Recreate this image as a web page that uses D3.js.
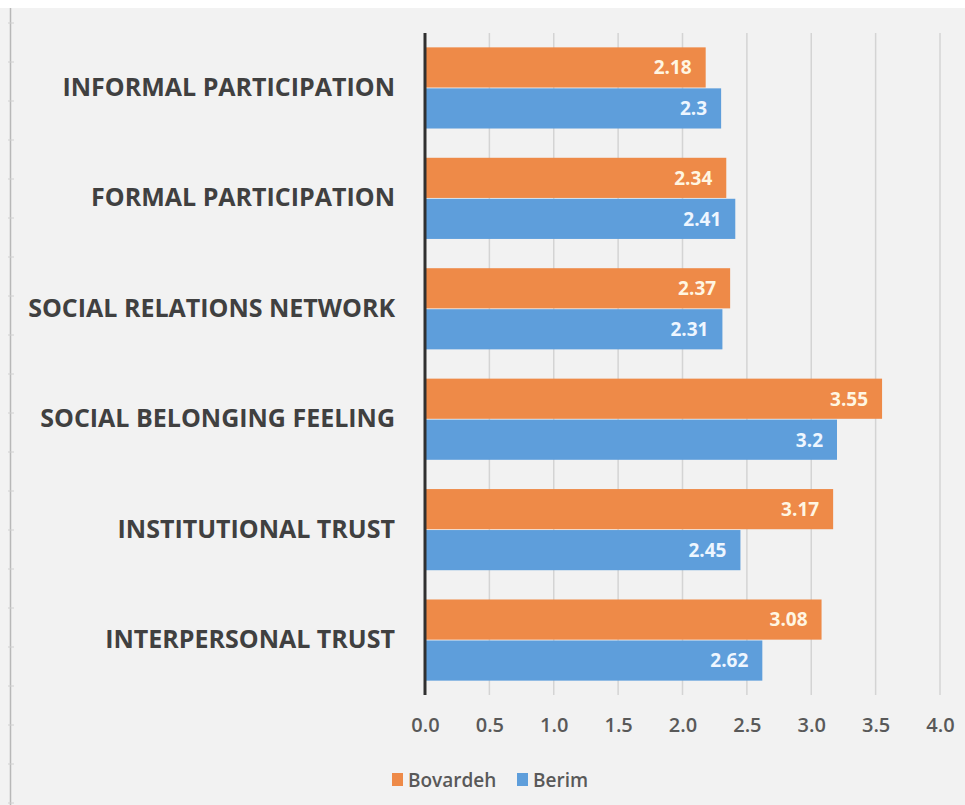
<!DOCTYPE html>
<html>
<head>
<meta charset="utf-8">
<script src="https://cdn.jsdelivr.net/npm/d3@7"></script>
<style>
body{margin:0;background:#fff;}
svg{display:block;font-family:'Open Sans',sans-serif;}
</style>
</head>
<body>
<div id="chart"></div>
<script>
var categories = ['INFORMAL PARTICIPATION','FORMAL PARTICIPATION','SOCIAL RELATIONS NETWORK','SOCIAL BELONGING FEELING','INSTITUTIONAL TRUST','INTERPERSONAL TRUST']
var series = ['Bovardeh','Berim']
var bovardeh = [2.18,2.34,2.37,3.55,3.17,3.08]
var berim = [2.3,2.41,2.31,3.2,2.45,2.62]
var ticks = [0,0.5,1,1.5,2,2.5,3,3.5,4]
var colors = ['#EE8A48','#5E9EDB']
var labelColors = ['#FFF6E2','#EEF6FF']

var W = 965, H = 805
var svg = d3.select('#chart').append('svg')
	.attr('width', W)
	.attr('height', H)

svg.append('rect').attr('x',0).attr('y',8).attr('width',W).attr('height',H-8).attr('fill','#f2f2f2')
// sheet edge on the left
svg.append('line').attr('x1',10.5).attr('x2',10.5).attr('y1',8).attr('y2',H).attr('stroke','#b8b8b8').attr('stroke-width',1.5)
svg.append('g').selectAll('line').data(d3.range(0,21)).enter().append('line')
	.attr('x1',8).attr('x2',14)
	.attr('y1',d=>23+d*39).attr('y2',d=>23+d*39)
	.attr('stroke','#d0d0d0')

var x = d3.scaleLinear().domain([0,4]).range([425,940])
var y = d3.scaleBand().domain(categories).range([33,695]).paddingInner(0.265).paddingOuter(0.13)
var y1 = d3.scaleBand().domain(series).range([0,y.bandwidth()]).paddingInner(0.02)

// gridlines
svg.append('g').selectAll('line').data(ticks.slice(1)).enter().append('line')
	.attr('x1',d=>x(d)).attr('x2',d=>x(d))
	.attr('y1',33).attr('y2',695)
	.attr('stroke','#d4d4d4').attr('stroke-width',1.5)

// x axis labels
var xAxis = svg.append('g').attr('transform','translate(0,695)')
	.call(d3.axisBottom(x).tickValues(ticks).tickFormat(d3.format('.1f')).tickSize(0).tickPadding(23))
xAxis.select('.domain').remove()
xAxis.selectAll('text').attr('font-size','20px').attr('font-weight','600').attr('fill','#595959').attr('font-family','Open Sans, sans-serif')

var data = [bovardeh, berim]
var g = svg.append('g')
categories.forEach(function(c,i){
	series.forEach(function(s,j){
		var v = data[j][i]
		var yy = y(c)+y1(s)
		g.append('rect')
			.attr('x',x(0)).attr('y',yy)
			.attr('width',x(v)-x(0)).attr('height',y1.bandwidth())
			.attr('fill',colors[j])
		g.append('text')
			.attr('x',x(v)-14).attr('y',yy+y1.bandwidth()/2)
			.attr('dy','0.36em')
			.attr('text-anchor','end')
			.attr('font-size','19px').attr('font-weight','bold')
			.attr('fill',labelColors[j])
			.text(v)
	})
})

// category labels
var yAxis = svg.append('g').attr('transform','translate(425,0)')
	.call(d3.axisLeft(y).tickSize(0).tickPadding(30))
yAxis.select('.domain').remove()
yAxis.selectAll('text').attr('font-size','25px').attr('font-weight','bold').attr('fill','#404040').attr('font-family','Open Sans, sans-serif')

// vertical axis line
svg.append('line').attr('x1',x(0)).attr('x2',x(0)).attr('y1',33).attr('y2',695).attr('stroke','#303030').attr('stroke-width',3)

// legend
var legX = [392,517]
var leg = svg.append('g')
series.forEach(function(s,j){
	leg.append('rect').attr('x',legX[j]).attr('y',773).attr('width',11).attr('height',13).attr('fill',colors[j])
	leg.append('text').attr('x',legX[j]+16).attr('y',780).attr('dy','0.35em')
		.attr('font-size','19px').attr('font-weight','600').attr('fill','#595959').text(s)
})
</script>
</body>
</html>
